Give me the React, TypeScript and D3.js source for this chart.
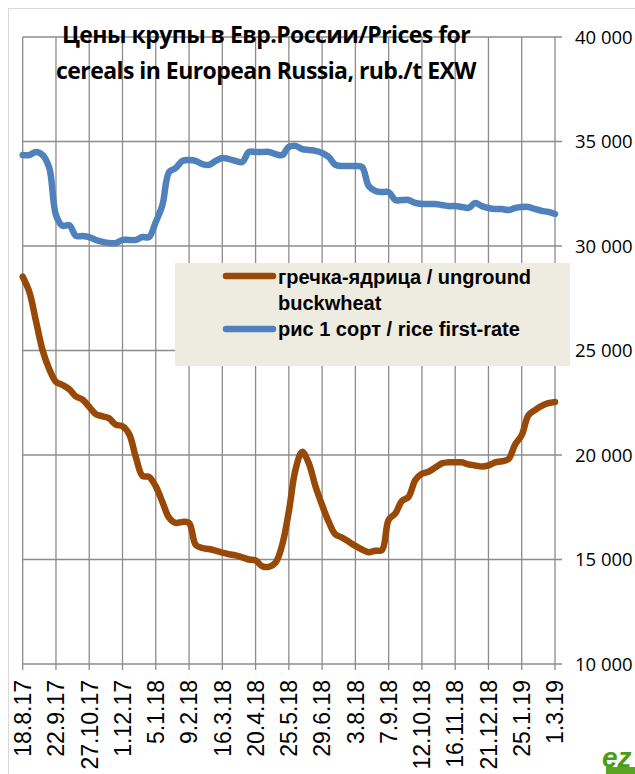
import React from "react";
import * as d3 from "d3";

// weekly prices, rub./t EXW, 18.8.17 .. 1.3.19
const buckwheat: number[] = [
  28530, 27800, 26400, 25000, 24100, 23500, 23350, 23150, 22800, 22650,
  22300, 21950, 21850, 21750, 21450, 21380, 21000, 19900, 19000, 18950,
  18500, 17750, 17000, 16750, 16800, 16750, 15700, 15550, 15500, 15420,
  15330, 15250, 15200, 15100, 15000, 14950, 14680, 14650, 14850, 15700,
  17300, 19300, 20150, 19600, 18500, 17600, 16800, 16200, 16050, 15850,
  15650, 15480, 15350, 15420, 15450, 16900, 17200, 17800, 18000, 18800,
  19100, 19200, 19400, 19600, 19650, 19650, 19650, 19550, 19500, 19450,
  19500, 19650, 19700, 19800, 20500, 20950, 21900, 22150, 22350, 22480,
  22540,
];

const rice: number[] = [
  34350, 34350, 34500, 34350, 33730, 31480, 30960, 31000, 30480, 30480,
  30430, 30290, 30200, 30140, 30140, 30290, 30290, 30290, 30430, 30430,
  31150, 31960, 33540, 33730, 34070, 34110, 34070, 33920, 33880, 34070,
  34210, 34160, 34070, 34020, 34500, 34500, 34500, 34500, 34400, 34350,
  34740, 34790, 34640, 34590, 34550, 34450, 34260, 33880, 33830, 33830,
  33830, 33780, 32870, 32630, 32580, 32580, 32200, 32200, 32200, 32060,
  32010, 32010, 32010, 31960, 31910, 31910, 31870, 31820, 32060, 31910,
  31820, 31770, 31770, 31720, 31820, 31870, 31870, 31770, 31680, 31630,
  31530,
];

const dateLabels: string[] = [
  "18.8.17", "22.9.17", "27.10.17", "1.12.17", "5.1.18", "9.2.18",
  "16.3.18", "20.4.18", "25.5.18", "29.6.18", "3.8.18", "7.9.18",
  "12.10.18", "16.11.18", "21.12.18", "25.1.19", "1.3.19",
];

const yTicks: number[] = [10000, 15000, 20000, 25000, 30000, 35000, 40000];

const titleLines = [
  "Цены крупы в Евр.России/Prices for",
  "cereals in European Russia, rub./t EXW",
];

const W = 635;
const H = 774;
const BROWN = "#984807";
const BLUE = "#4f81bd";
const GRID = "#8c8c8c";

export default function App() {
  const x = d3.scaleLinear().domain([0, buckwheat.length - 1]).range([22.7, 555]);
  const y = d3.scaleLinear().domain([10000, 40000]).range([664, 37]);
  const line = d3
    .line<number>()
    .x((_, i) => x(i))
    .y((d) => y(d))
    .curve(d3.curveCatmullRom.alpha(0.5));

  const fmt = (v: number) => d3.format(",")(v).replace(/,/g, " ");

  return (
    <svg
      width={W}
      height={H}
      style={{ position: "absolute", left: 0, top: 0, background: "#fff" }}
    >
      <rect x={8.5} y={8.5} width={W + 10} height={H + 10} fill="#fff" stroke="#d9d9d9" />

      {/* grid */}
      {yTicks.map((t) => (
        <line key={`h${t}`} x1={x(0)} x2={562} y1={y(t)} y2={y(t)} stroke={GRID} strokeWidth={1.3} />
      ))}
      {dateLabels.map((_, k) => (
        <line key={`v${k}`} x1={x(k * 5)} x2={x(k * 5)} y1={y(40000)} y2={670} stroke={GRID} strokeWidth={1.3} />
      ))}

      {/* title */}
      {titleLines.map((t, i) => (
        <text
          key={t}
          x={266}
          y={43 + i * 36}
          textAnchor="middle"
          fontFamily="'Open Sans', sans-serif"
          fontWeight={700}
          fontSize={23}
          letterSpacing={-0.55}
          fill="#000"
        >
          {t}
        </text>
      ))}

      {/* series */}
      <path d={line(rice) ?? ""} fill="none" stroke={BLUE} strokeWidth={6.5} strokeLinejoin="round" strokeLinecap="round" />
      <path d={line(buckwheat) ?? ""} fill="none" stroke={BROWN} strokeWidth={6.5} strokeLinejoin="round" strokeLinecap="round" />

      {/* right axis labels */}
      {yTicks.map((t) => (
        <text
          key={`yl${t}`}
          x={575}
          y={y(t)}
          dy="0.36em"
          fontFamily="'Open Sans', sans-serif"
          fontSize={18.5}
          fill="#000"
        >
          {fmt(t)}
        </text>
      ))}

      {/* bottom labels */}
      {dateLabels.map((d, k) => (
        <text
          key={`xl${k}`}
          transform={`translate(${x(k * 5)},680) rotate(-90)`}
          textAnchor="end"
          dy="0.36em"
          fontFamily="'Liberation Sans', Arial, sans-serif"
          fontSize={23}
          fill="#000"
        >
          {d}
        </text>
      ))}

      {/* legend */}
      <g fontFamily="'Liberation Sans', Arial, sans-serif" fontWeight={700} fontSize={20} fill="#000">
        <rect x={175} y={263} width={395} height={103} fill="#eeece1" />
        <line x1={226} x2={273} y1={276} y2={276} stroke={BROWN} strokeWidth={6.5} strokeLinecap="round" />
        <text x={278} y={284}>гречка-ядрица / unground</text>
        <text x={278} y={310}>buckwheat</text>
        <line x1={226} x2={273} y1={329} y2={329} stroke={BLUE} strokeWidth={6.5} strokeLinecap="round" />
        <text x={278} y={336}>рис 1 сорт / rice first-rate</text>
      </g>

      {/* logo */}
      <g>
        <text x={602} y={767} fontFamily="'Liberation Sans', Arial, sans-serif" fontWeight={700} fontStyle="italic" fontSize={28} fill="#4a9c16">
          ez
        </text>
        <rect x={606} y={767} width={30} height={7} fill="#5aa320" />
      </g>
    </svg>
  );
}
